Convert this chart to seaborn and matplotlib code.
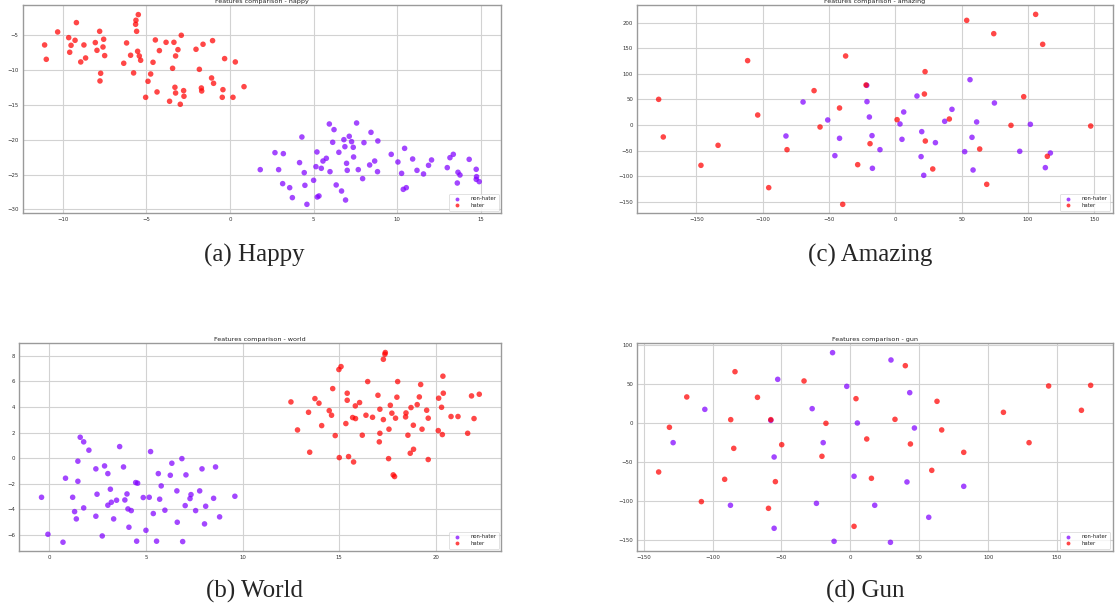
import numpy as np
import pandas as pd
import matplotlib
matplotlib.use("Agg")
import matplotlib.pyplot as plt
import seaborn as sns
from matplotlib.ticker import MultipleLocator

# ---- happy ----
happy_nh_x = [1.81, 2.69, 2.91, 3.19, 3.15, 3.57, 3.73, 4.16, 4.30, 4.44, 4.48, 4.60, 5.00, 5.14,
              5.20, 5.22, 5.32, 5.46, 5.56, 5.76, 5.94, 5.98, 6.14, 6.22, 6.35, 6.51, 6.67, 6.81,
              6.87, 6.97, 7.01, 6.91, 7.13, 7.27, 7.37, 7.39, 7.57, 7.67, 7.93, 8.01, 8.35, 8.43,
              8.65, 8.84, 8.82, 9.64, 10.04, 10.26, 10.44, 10.36, 10.54, 10.92, 11.18, 11.57,
              11.87, 12.05, 12.99, 13.15, 13.35, 13.59, 13.63, 13.75, 14.30, 14.72, 14.74, 14.72, 14.90]
happy_nh_y = [-24.30, -21.86, -24.30, -22.00, -26.31, -26.89, -28.32, -23.29, -19.61, -24.73,
              -26.55, -29.28, -25.83, -23.87, -21.76, -28.23, -28.08, -24.11, -23.06, -22.67,
              -17.74, -24.59, -20.37, -18.55, -26.50, -21.81, -27.37, -19.99, -21.00, -23.39,
              -24.40, -28.66, -19.51, -20.28, -21.09, -22.48, -17.60, -24.30, -25.59, -20.42,
              -23.63, -18.94, -23.06, -20.18, -24.59, -22.10, -23.20, -24.83, -21.24, -27.13,
              -26.89, -22.77, -24.40, -24.92, -23.68, -22.91, -24.01, -22.58, -22.10, -26.22,
              -24.68, -25.07, -22.82, -24.25, -25.31, -25.69, -26.02]
happy_h_x = [-11.08, -10.98, -10.30, -9.18, -9.64, -9.50, -9.58, -9.26, -8.92, -8.73, -8.63, -8.05,
             -7.95, -7.79, -7.55, -7.59, -7.49, -7.73, -7.77, -6.35, -6.18, -5.94, -5.76, -5.48,
             -5.62, -5.64, -5.58, -5.52, -5.42, -5.34, -4.60, -4.46, -4.74, -4.90, -5.04, -4.36,
             -4.22, -3.82, -3.61, -3.43, -3.35, -3.25, -3.29, -3.25, -3.11, -2.97, -2.91, -2.77,
             -2.75, -2.03, -1.83, -1.61, -1.71, -1.69, -1.04, -1.10, -0.98, -0.32, -0.42, -0.46,
             0.18, 0.32, 0.84]
happy_h_y = [-6.39, -8.45, -4.52, -3.18, -5.34, -6.44, -7.44, -5.72, -8.83, -6.39, -8.26, -6.05,
             -7.16, -4.43, -5.57, -6.68, -7.92, -10.46, -11.56, -9.02, -6.10, -7.87, -10.41, -2.03,
             -2.84, -3.42, -4.43, -7.30, -7.97, -8.59, -8.88, -5.67, -10.56, -11.61, -13.91, -13.14,
             -7.20, -6.01, -14.48, -9.74, -6.01, -7.97, -12.47, -13.29, -7.06, -14.91, -5.00, -12.95,
             -13.76, -7.01, -9.89, -6.29, -12.57, -13.00, -5.77, -11.13, -11.90, -8.35, -12.81,
             -13.91, -13.91, -8.83, -12.38]

# ---- world ----
world_nh_x = [-0.40, -0.07, 0.71, 0.84, 1.21, 1.31, 1.40, 1.48, 1.48, 1.60, 1.78, 1.78, 2.05, 2.41,
              2.41, 2.47, 2.74, 2.86, 3.03, 3.03, 3.16, 3.21, 3.33, 3.48, 3.64, 3.84, 3.91, 4.02,
              4.07, 4.12, 4.24, 4.47, 4.57, 4.52, 4.86, 5.00, 5.17, 5.24, 5.38, 5.55, 5.64, 5.71,
              5.79, 5.98, 6.26, 6.34, 6.60, 6.62, 6.86, 6.90, 7.03, 7.07, 7.28, 7.33, 7.57, 7.78,
              7.90, 8.03, 8.09, 8.50, 8.60, 8.81, 9.60]
world_nh_y = [-3.05, -5.94, -6.56, -1.56, -3.05, -4.17, -4.74, -0.23, -1.80, 1.64, 1.28, -3.88,
              0.63, -0.83, -4.53, -2.81, -6.07, -0.60, -1.20, -3.67, -2.42, -3.44, -4.74, -3.28,
              0.91, -0.68, -3.26, -2.79, -3.96, -5.39, -4.09, -1.90, -1.95, -6.48, -3.07, -5.63,
              -3.05, 0.52, -4.32, -6.48, -1.20, -3.20, -2.16, -4.06, -1.33, -0.39, -2.55, -5.00,
              -0.03, -6.51, -3.70, -1.30, -3.15, -2.84, -4.09, -2.55, -0.83, -5.13, -3.75, -3.13,
              -0.68, -4.58, -2.97]
world_h_x = [12.50, 12.84, 13.41, 13.47, 13.74, 13.95, 14.09, 14.48, 14.60, 14.66, 14.79, 14.98,
             15.09, 15.00, 15.34, 15.41, 15.41, 15.48, 15.69, 15.74, 15.83, 15.84, 16.05, 16.19,
             16.38, 16.47, 16.72, 17.00, 17.07, 17.10, 17.10, 17.28, 17.28, 17.36, 17.38, 17.55,
             17.57, 17.64, 17.72, 17.79, 17.86, 17.91, 17.98, 18.02, 18.43, 18.45, 18.55, 18.67,
             18.71, 18.83, 18.84, 19.03, 19.14, 19.21, 19.28, 19.52, 19.60, 19.60, 20.12, 20.14,
             20.29, 20.33, 20.38, 20.36, 20.78, 21.14, 21.64, 21.84, 21.97, 22.24]
world_h_y = [4.40, 2.21, 3.59, 0.47, 4.66, 4.30, 2.55, 3.72, 3.36, 5.44, 1.77, 6.93, 7.16, 0.05,
             2.71, 4.53, 5.08, 0.13, 3.18, -0.29, 4.09, 3.10, 4.35, 1.80, 3.36, 5.99, 3.20, 4.92,
             1.28, 1.95, 3.83, 3.02, 7.73, 8.13, 8.26, -0.03, 2.27, 4.14, 3.52, -1.30, -1.43, 3.13,
             4.77, 5.99, 3.23, 3.54, 1.80, 0.39, 3.96, 2.58, 0.70, 4.19, 4.79, 5.76, 2.27, 3.75,
             3.13, -0.10, 2.16, 4.69, 3.98, 1.85, 5.08, 6.41, 3.26, 3.26, 1.95, 4.87, 3.10, 5.00]

# ---- amazing ----
amazing_nh_x = [-69.6, -82.5, -51.0, -45.6, -42.1, -21.6, -21.4, -19.6, -17.6, -17.3, -11.6, 3.5,
                5.0, 6.3, 16.3, 19.4, 19.9, 21.4, 30.2, 37.2, 42.7, 52.3, 56.3, 57.8, 58.6, 61.3,
                74.7, 93.8, 101.8, 113.1, 116.9]
amazing_nh_y = [44.9, -21.5, 9.8, -59.9, -26.0, 77.5, 45.6, 15.6, -20.8, -84.6, -48.2, 2.0,
                -28.0, 25.4, 56.6, -61.8, -13.0, -98.3, -34.5, 7.2, 30.6, -52.1, 88.5, -24.1,
                -87.9, 5.9, 43.0, -51.4, 1.3, -83.3, -54.7]
amazing_h_x = [-178.5, -175.0, -146.6, -133.7, -111.4, -103.8, -95.5, -81.7, -61.3, -56.8, -42.1,
               -37.5, -39.7, -28.4, -22.1, -19.1, 1.3, 22.4, 21.9, 22.6, 28.2, 40.7, 53.8, 63.6,
               68.9, 74.2, 87.2, 96.8, 105.8, 111.1, 114.6, 147.3]
amazing_h_y = [50.1, -23.4, -78.8, -39.7, 125.7, 19.5, -122.4, -48.2, 67.1, -3.9, 33.2, 134.8,
               -155.0, -77.5, 78.1, -36.5, 10.4, 104.2, 60.5, -31.3, -85.9, 11.7, 204.4, -46.9,
               -115.9, 178.4, -0.7, 55.3, 216.1, 157.6, -61.2, -2.0]

# ---- gun ----
gun_nh_x = [-128.6, -105.6, -87.0, -57.7, -55.3, -55.3, -52.7, -27.7, -24.6, -19.7, -12.9, -11.8,
            -2.6, 5.1, 2.7, 17.7, 29.5, 29.1, 43.1, 46.5, 41.1, 56.9, 82.3]
gun_nh_y = [-24.8, 17.9, -105.1, 3.8, -43.2, -134.6, 56.4, 18.8, -102.6, -24.8, 90.6, -151.3,
            47.4, 0.4, -67.9, -105.1, 81.2, -152.6, 39.3, -6.0, -75.2, -120.5, -80.8]
gun_h_x = [-139.1, -131.3, -118.7, -108.1, -91.2, -86.8, -84.6, -83.7, -67.4, -59.4, -57.7, -54.4,
           -49.8, -33.6, -20.6, -17.7, 4.1, 11.9, 15.3, 2.7, 32.4, 39.9, 43.6, 59.1, 62.9, 66.3,
           82.3, 111.1, 129.7, 143.9, 167.7, 174.4]
gun_h_y = [-62.4, -5.1, 33.8, -100.4, -71.8, 4.7, -32.1, 66.2, 33.3, -109.0, 4.7, -74.8, -27.4,
           54.3, -42.3, 0.0, 31.6, -20.1, -70.5, -132.1, 5.1, 73.9, -26.5, -60.3, 28.2, -8.5,
           -37.2, 14.1, -24.8, 47.9, 16.7, 48.7]

labels = ["non-hater", "hater"]
colors = ["#8000ff", "#ff0000"]

sns.set_style("whitegrid", {"axes.edgecolor": "#9a9a9a", "grid.color": "#d2d2d2"})
plt.rcParams["axes.linewidth"] = 1.0
plt.rcParams["grid.linewidth"] = 0.8

W, H = 1115, 612
fig = plt.figure(figsize=(W / 100, H / 100), dpi=100)


def panel(rect, word, nh_x, nh_y, h_x, h_y, xlim, ylim, xstep, ystep):
    ax = fig.add_axes(rect)
    df = pd.DataFrame({
        "x": nh_x + h_x,
        "y": nh_y + h_y,
        "label": [labels[0]] * len(nh_x) + [labels[1]] * len(h_x),
    })
    sns.scatterplot(data=df, x="x", y="y", hue="label", hue_order=labels, palette=colors,
                    alpha=0.72, s=16, linewidth=0, ax=ax)
    ax.set_xlim(xlim)
    ax.set_ylim(ylim)
    ax.xaxis.set_major_locator(MultipleLocator(xstep))
    ax.yaxis.set_major_locator(MultipleLocator(ystep))
    ax.set_xlabel("")
    ax.set_ylabel("")
    ax.set_title("Features comparison - " + word, fontsize=4.6, pad=1.5, color="#222222")
    ax.tick_params(labelsize=3.9, length=1.5, width=0.5, pad=1.5, colors="#333333")
    leg = ax.legend(loc="lower right", fontsize=3.8, markerscale=0.7, borderpad=0.5,
                    handletextpad=1.5, labelspacing=0.3, frameon=True)
    leg.get_frame().set_linewidth(0.5)
    return ax


def frac(left, top, right, bottom):
    return [left / W, 1 - bottom / H, (right - left) / W, (bottom - top) / H]


panel(frac(22.7, 5, 501.3, 213.3), "happy", happy_nh_x, happy_nh_y, happy_h_x, happy_h_y,
      (-12.39, 16.22), (-30.57, -0.65), 5, 5)
panel(frac(637.3, 5, 1112.7, 213.3), "amazing", amazing_nh_x, amazing_nh_y, amazing_h_x, amazing_h_y,
      (-194.6, 163.9), (-172.5, 234.4), 50, 50)
panel(frac(19.3, 343.3, 501.3, 551.3), "world", world_nh_x, world_nh_y, world_h_x, world_h_y,
      (-1.55, 23.38), (-7.27, 8.98), 5, 2)
panel(frac(637.3, 343.3, 1112.7, 551.3), "gun", gun_nh_x, gun_nh_y, gun_h_x, gun_h_y,
      (-154.6, 190.4), (-164.1, 102.6), 50, 50)

caps = [("(a) Happy", 254, 255), ("(c) Amazing", 870, 255),
        ("(b) World", 254, 591), ("(d) Gun", 865, 591)]
for txt, cx, cy in caps:
    fig.text(cx / W, 1 - cy / H, txt, ha="center", va="center", fontsize=18,
             family=["Liberation Serif", "DejaVu Serif"])

fig.savefig("out.png", dpi=100)
